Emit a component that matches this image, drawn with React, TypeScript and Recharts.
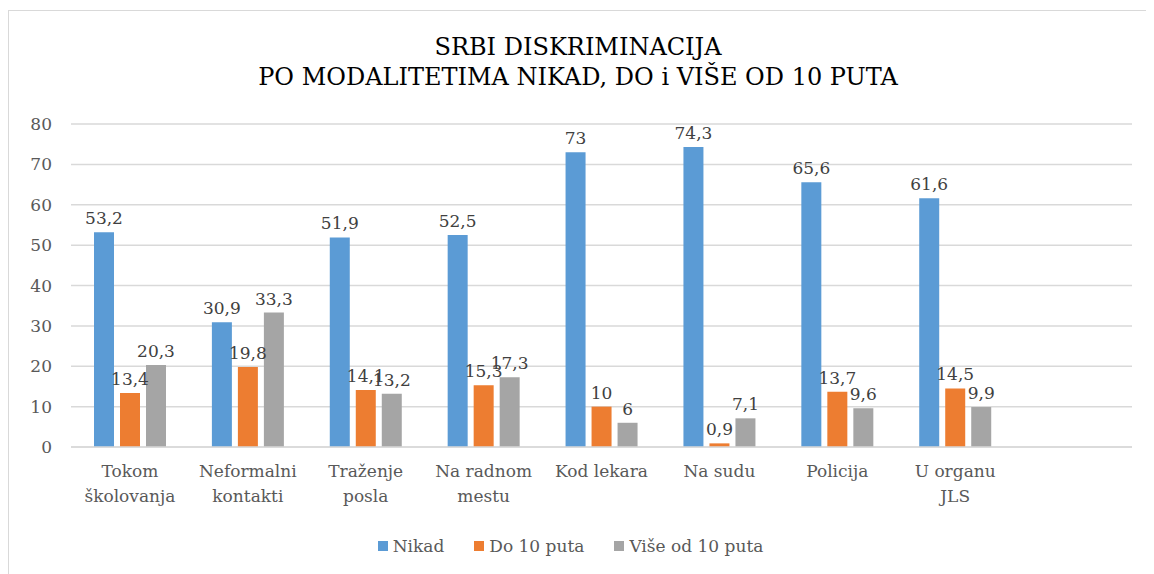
import React from 'react'
import { BarChart, Bar, XAxis, YAxis, CartesianGrid, Legend, LabelList } from 'recharts'

const categories = [
  'Tokom\nškolovanja',
  'Neformalni\nkontakti',
  'Traženje\nposla',
  'Na radnom\nmestu',
  'Kod lekara',
  'Na sudu',
  'Policija',
  'U organu\nJLS',
  '',
]
const nikad = [53.2, 30.9, 51.9, 52.5, 73, 74.3, 65.6, 61.6, null]
const do10 = [13.4, 19.8, 14.1, 15.3, 10, 0.9, 13.7, 14.5, null]
const vise10 = [20.3, 33.3, 13.2, 17.3, 6, 7.1, 9.6, 9.9, null]
const yTicks = [0, 10, 20, 30, 40, 50, 60, 70, 80]

const series = [
  { key: 'nikad', name: 'Nikad', color: '#5B9BD5' },
  { key: 'do10', name: 'Do 10 puta', color: '#ED7D31' },
  { key: 'vise10', name: 'Više od 10 puta', color: '#A5A5A5' },
]

const data = categories.map((c, i) => ({
  category: c,
  nikad: nikad[i],
  do10: do10[i],
  vise10: vise10[i],
}))

const FONT = 'DejaVu Serif'
const fmt = (v: any) => (v == null ? '' : String(v).replace('.', ','))

// kategorije u dva reda
function CategoryTick({ x, y, payload }: any) {
  const lines = String(payload.value).split('\n')
  return (
    <text x={x} y={y} textAnchor="middle" fill="#595959" fontSize={17} fontFamily={FONT}>
      {lines.map((l, i) => (
        <tspan key={i} x={x} dy={i === 0 ? 22 : 25}>
          {l}
        </tspan>
      ))}
    </text>
  )
}

function LegendContent() {
  return (
    <div style={{ display: 'flex', justifyContent: 'center', fontFamily: FONT, fontSize: 17, color: '#595959' }}>
      {series.map((s) => (
        <div key={s.key} style={{ display: 'flex', alignItems: 'center', margin: '0 15px' }}>
          <span style={{ width: 10, height: 10, background: s.color, display: 'inline-block', marginRight: 5 }} />
          <span>{s.name}</span>
        </div>
      ))}
    </div>
  )
}

export default function App() {
  return (
    <div
      style={{
        position: 'relative',
        marginTop: 2,
        width: 1146,
        height: 564,
        borderTop: '1px solid #d9d9d9',
        borderLeft: '1px solid #d9d9d9',
        background: '#fff',
      }}
    >
      <div
        style={{
          position: 'absolute',
          top: 21,
          left: 0,
          width: 1138,
          textAlign: 'center',
          fontFamily: FONT,
          fontSize: 24,
          lineHeight: '30px',
          color: '#000',
        }}
      >
        SRBI DISKRIMINACIJA
        <br />
        PO MODALITETIMA NIKAD, DO i VIŠE OD 10 PUTA
      </div>
      <BarChart
        width={1145}
        height={563}
        data={data}
        margin={{ top: 113, right: 22, left: 0, bottom: 12 }}
        barGap={6}
        barSize={20}
      >
        <CartesianGrid vertical={false} stroke="#d9d9d9" strokeWidth={1.5} />
        <XAxis
          dataKey="category"
          interval={0}
          tick={<CategoryTick />}
          tickLine={false}
          axisLine={{ stroke: '#d9d9d9', strokeWidth: 1.5 }}
          height={89}
        />
        <YAxis
          domain={[0, 80]}
          ticks={yTicks}
          width={62}
          axisLine={false}
          tickLine={false}
          tickMargin={13}
          tick={{ fill: '#595959', fontSize: 17, fontFamily: FONT }}
        />
        <Legend verticalAlign="bottom" height={26} content={<LegendContent />} />
        {series.map((s) => (
          <Bar key={s.key} dataKey={s.key} name={s.name} fill={s.color} isAnimationActive={false}>
            <LabelList
              dataKey={s.key}
              position="top"
              offset={8}
              formatter={fmt}
              style={{ fill: '#404040', fontSize: 17, fontFamily: FONT }}
            />
          </Bar>
        ))}
      </BarChart>
    </div>
  )
}
